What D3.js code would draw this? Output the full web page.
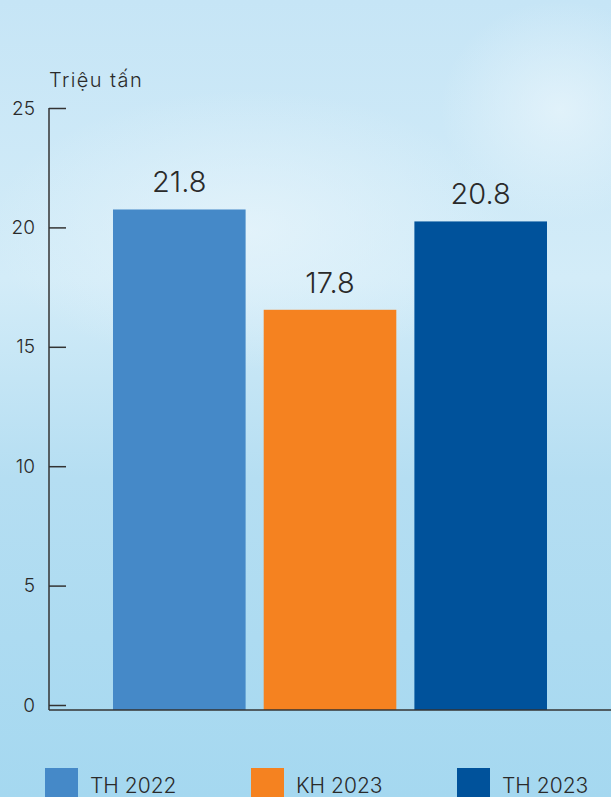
<!DOCTYPE html>
<html>
<head>
<meta charset="utf-8">
<title>Triệu tấn</title>
<script src="https://cdn.jsdelivr.net/npm/d3@7"></script>
<style>
  body{ margin:0; padding:0; }
  #chart{ width:611px; height:797px; overflow:hidden; }
  text{ font-family: "Inter", "Noto Sans", sans-serif; fill:#2a2a2a; font-weight:300; }
</style>
</head>
<body>
<div id="chart"></div>
<script>
// categories + values
var categories = ["TH 2022", "KH 2023", "TH 2023"];
var barValues = [20.75, 16.55, 20.25];     // bar heights against the axis
var labelTexts = ["21.8", "17.8", "20.8"];  // printed value labels
var yTicks = [0, 5, 10, 15, 20, 25];
var unit = "Triệu tấn";
var colors = ["#4589c8", "#f58220", "#00529b"];

var width = 611, height = 797;
var svg = d3.select("#chart").append("svg")
    .attr("width", width).attr("height", height);

// background
var defs = svg.append("defs");
var bg = defs.append("linearGradient").attr("id", "bg")
    .attr("x1", 0).attr("y1", 0).attr("x2", 0).attr("y2", 1);
bg.append("stop").attr("offset", "0%").attr("stop-color", "#c6e5f6");
bg.append("stop").attr("offset", "35%").attr("stop-color", "#d3ecf8");
bg.append("stop").attr("offset", "60%").attr("stop-color", "#b5def2");
bg.append("stop").attr("offset", "100%").attr("stop-color", "#a5d8f0");
svg.append("rect").attr("width", width).attr("height", height).attr("fill", "url(#bg)");

var glow = defs.append("radialGradient").attr("id", "glow");
glow.append("stop").attr("offset", "0%").attr("stop-color", "#e6f4fb").attr("stop-opacity", 0.8);
glow.append("stop").attr("offset", "100%").attr("stop-color", "#e6f4fb").attr("stop-opacity", 0);
svg.append("ellipse").attr("cx", 250).attr("cy", 230).attr("rx", 260).attr("ry", 140).attr("fill", "url(#glow)");
svg.append("ellipse").attr("cx", 560).attr("cy", 110).attr("rx", 120).attr("ry", 110).attr("fill", "url(#glow)");

var x = d3.scaleBand()
    .domain(categories)
    .range([113, 547])
    .paddingInner(0.12)
    .paddingOuter(0);

var y = d3.scaleLinear()
    .domain([0, 25])
    .range([705, 108]);

var baseY = 710;

// bars
svg.selectAll(".bar")
    .data(categories)
    .enter().append("rect")
    .attr("class", "bar")
    .attr("x", function(d){ return x(d); })
    .attr("y", function(d, i){ return y(barValues[i]); })
    .attr("width", x.bandwidth())
    .attr("height", function(d, i){ return baseY - y(barValues[i]); })
    .attr("fill", function(d, i){ return colors[i]; });

// value labels
svg.selectAll(".lbl")
    .data(categories)
    .enter().append("text")
    .attr("class", "lbl")
    .attr("x", function(d){ return x(d) + x.bandwidth() / 2; })
    .attr("y", function(d, i){ return y(barValues[i]) - 17; })
    .attr("text-anchor", "middle")
    .style("font-size", "29px")
    .text(function(d, i){ return labelTexts[i]; });

// y axis
var yAxis = d3.axisRight(y)
    .tickValues(yTicks)
    .tickSize(17)
    .tickFormat(d3.format("d"));
var gy = svg.append("g")
    .attr("transform", "translate(49,0)")
    .call(yAxis);
gy.select(".domain").remove();
gy.selectAll(".tick line").attr("stroke", "#333").attr("stroke-width", 1.5);
gy.selectAll(".tick text")
    .attr("x", -14).attr("dy", "0.32em")
    .attr("text-anchor", "end")
    .style("font-size", "19px")
    .style("font-family", "Inter, sans-serif")
    .style("fill", "#2a2a2a");
svg.append("line")
    .attr("x1", 49).attr("x2", 49)
    .attr("y1", y(25)).attr("y2", baseY)
    .attr("stroke", "#333").attr("stroke-width", 1.5);
svg.append("line")
    .attr("x1", 49).attr("x2", width)
    .attr("y1", baseY).attr("y2", baseY)
    .attr("stroke", "#333").attr("stroke-width", 1.5);

svg.append("text")
    .attr("x", 49).attr("y", 87)
    .style("font-size", "20px")
    .style("letter-spacing", "1.4px")
    .text(unit);

// legend
var legX = [45, 251, 457];
var leg = svg.selectAll(".leg")
    .data(categories)
    .enter().append("g")
    .attr("class", "leg")
    .attr("transform", function(d, i){ return "translate(" + legX[i] + ",768)"; });
leg.append("rect")
    .attr("width", 33).attr("height", 33)
    .attr("fill", function(d, i){ return colors[i]; });
leg.append("text")
    .attr("x", 45).attr("y", 25)
    .style("font-size", "21px")
    .text(function(d){ return d; });
</script>
</body>
</html>
